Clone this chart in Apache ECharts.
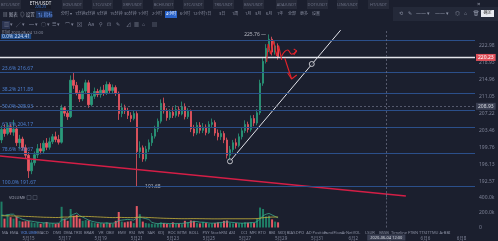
<!DOCTYPE html>
<html><head><meta charset="utf-8">
<script src="https://cdn.jsdelivr.net/npm/echarts@6/dist/echarts.min.js"></script>
<style>html,body{margin:0;padding:0;background:#1b1f2e;}#c{width:498px;height:241px;}</style>
</head><body><div id="c"></div>
<script>
// ===== DATA =====
const opens  = [201.5,203.8,202.9,204.4,203.2,203.9,200.9,201.7,199.8,198.2,194.9,196.6,198.3,199.6,199.1,200.8,199.9,201.1,202.2,201.6,201.0,208.6,207.4,206.6,214.9,213.7,212.0,210.6,212.4,214.3,209.3,211.2,212.3,211.6,212.6,211.9,213.9,212.5,213.2,211.9,207.3,208.6,207.9,206.9,206.2,207.3,199.0,199.8,197.4,199.5,200.9,202.3,203.9,205.6,209.6,207.9,206.4,207.6,206.9,208.2,207.2,208.9,206.6,207.8,203.9,203.0,204.7,203.6,204.3,203.1,204.9,205.3,203.0,202.2,202.9,201.5,198.2,199.4,200.9,200.3,202.2,203.5,204.9,203.8,206.2,205.2,207.5,214.2,219.3,222.4,224.6,221.5,223.0];
const closes = [203.8,202.9,204.4,203.2,203.9,200.9,201.7,199.8,198.2,194.9,196.6,198.3,199.6,199.1,200.8,199.9,201.1,202.2,201.6,201.0,208.6,207.4,206.6,214.9,213.7,212.0,210.6,212.4,214.3,209.3,211.2,212.3,211.6,212.6,211.9,213.9,212.5,213.2,211.9,207.3,208.6,207.9,206.9,206.2,207.3,199.0,199.8,197.4,199.5,200.9,202.3,203.9,205.6,209.6,207.9,206.4,207.6,206.9,208.2,207.2,208.9,206.6,207.8,203.9,203.0,204.7,203.6,204.3,203.1,204.9,205.3,203.0,202.2,202.9,201.5,198.2,199.4,200.9,200.3,202.2,203.5,204.9,203.8,206.2,205.2,207.5,214.2,219.3,222.4,224.6,221.5,223.0,220.23];
const highs  = [204.6,204.9,205.3,205.0,205.9,204.6,202.6,202.2,200.5,198.9,197.2,199.0,200.6,200.8,201.4,201.9,202.0,202.8,203.3,202.6,209.3,209.0,208.0,216.0,216.6,214.5,212.6,213.0,215.0,214.9,212.0,213.2,212.9,213.4,213.8,214.6,214.4,213.9,213.7,212.3,209.6,209.3,208.6,207.6,208.0,207.8,201.2,200.3,200.2,201.6,203.0,204.6,206.2,210.5,210.9,208.5,208.3,208.7,209.2,208.9,210.0,209.6,208.5,208.2,204.8,205.4,205.4,205.2,204.9,205.6,206.2,205.8,203.8,203.6,203.4,202.0,200.2,201.5,201.8,202.9,204.3,205.8,205.5,206.9,207.0,208.3,215.0,220.2,223.4,225.76,225.2,224.1,223.6];
const lows   = [200.8,202.2,202.5,202.6,202.4,200.2,199.6,199.2,197.5,193.4,194.2,196.0,197.6,198.4,198.6,199.3,199.4,200.6,201.0,200.5,200.7,206.7,205.9,206.3,212.9,211.4,209.9,210.1,211.8,208.6,208.9,210.6,211.0,210.9,211.3,211.5,211.9,211.9,211.3,205.9,206.5,207.2,206.1,205.4,205.8,191.68,197.6,196.8,196.9,198.9,200.2,201.8,203.2,205.1,207.3,205.7,205.9,206.3,206.4,206.6,206.9,206.0,206.1,203.2,202.3,202.6,202.9,203.0,202.5,202.8,204.2,202.4,201.4,201.5,200.8,197.5,196.9,198.8,199.6,199.9,201.6,203.0,203.1,203.3,204.5,204.7,207.0,213.6,218.8,221.5,220.7,220.9,219.7];
const volumesK = [350,120,180,140,120,150,90,80,85,90,70,60,70,50,65,75,55,60,50,60,280,120,90,250,160,170,120,90,100,95,70,60,55,60,55,70,60,50,90,210,80,70,80,85,60,290,180,80,60,55,50,45,50,70,60,50,45,70,50,55,45,90,70,95,90,60,55,75,60,50,55,60,70,60,90,95,60,55,60,55,60,70,65,70,60,120,270,250,150,160,110,80,70];
const volMaFastK = [170,165,170,180,180,140,130,110,100,90,85,78,72,68,62,64,60,58,58,60,100,110,120,160,180,195,160,140,120,100,85,75,68,62,60,60,58,58,65,95,100,105,110,105,100,130,140,130,120,110,70,58,52,55,57,55,52,55,55,55,55,60,65,72,80,80,72,72,68,60,58,60,62,68,72,76,72,68,64,60,58,60,62,65,66,80,120,160,180,190,170,150,130];
const volMaSlowK = [160,158,158,157,156,155,154,152,150,149,147,145,143,141,139,138,137,136,135,135,140,141,141,145,147,149,150,150,150,149,147,145,143,141,139,137,135,134,134,137,136,135,134,134,133,138,140,139,137,135,133,131,129,127,125,124,123,122,121,120,119,119,119,120,120,120,119,119,118,118,117,117,117,117,118,118,118,118,118,118,118,118,118,118,119,120,126,132,136,139,141,142,142];
const dateLabels = ['5月15','5月17','5月19','5月21','5月23','5月25','5月27','5月29','5月31','6月2','6月4','6月6','6月8'];
const fibNames  = ['0.0%','23.6%','38.2%','50.0%','61.8%','78.6%','100.0%'];
const fibLevels = [224.41,216.67,211.89,208.03,204.17,198.67,191.67];
const lastPrice = 220.23;
const crossPrice = 208.93;
const crossTime = '2020-06-04 12:00';
const highMark = [89, 225.76];
const lowMark = [45, 191.68];
const redTrend = [[-0.5,198.03],[134.5,189.67]];
const whiteTrend = [[76,196.9],[112.8,226.8]];
const anchorPts = [[76,196.9],[103.2,218.68]];
const scribbleM = [[88.2,219.16],[88.7,223.45],[89.5,221.0],[90.5,224.2],[91.5,220.6],[92.2,222.97],[93.2,219.63]];
const scribbleR = [[93.2,220.6],[95.2,222.0],[96.5,221.0],[98.2,221.8]];
const scribbleRHead = [[97.2,222.25],[98.2,221.8],[97.2,220.8]];
const scribbleD = [[94.2,220.1],[96.5,215.17]];
const scribbleDHead = [[95.2,216.57],[96.5,215.17],[98.2,216.1]];
const tabNames = ['BTC/USDT','ETH/USDT','EOS/USDT','LTC/USDT','XRP/USDT','BCH/USDT','ETC/USDT','TRX/USDT','BSV/USDT','ADA/USDT','DOT/USDT','LINK/USDT','HT/USDT'];
const periodNames = ['分时 ▾','1分钟','3分钟','5分钟','15分钟','30分钟','1小时','2小时','4小时','6小时','12小时','1日','3日','1周','1月','3月','6月','1年','全部','更多','设置'];
const toolGlyphs = ['▥','╱','═','○','☰','⌒','⊠','Aa','⚲','⊡','✎','⊿','▦','⌂','▤'];
const indicatorNames = ['MA','EMA','VOLUME','MACD','DMI','DMA','TRIX','BRAR','VR','OBV','EMV','RSI','WR','SAR','KDJ','ROC','MTM','BOLL','PSY','StochRSI','ASI','CCI','MFI','RTO','BBI','SKDJ','BIAS','DPO','AD','Position','FundFlow','ArNetVOL','LSUR','BSSB','Timeline','FTBN','TTSI','TTMU','ArBBI'];

// ===== LAYOUT / STYLE =====
const N = 158;
const cats = Array.from({length:N},(_,i)=>String(i));
const UP='#2a9a7b', DN='#ec5661', VUP='#1f7d65', VDN='#e45864';
const LOG_BASE = Math.exp(Math.log(192.57)/287);
const candle = opens.map((o,i)=>[o, closes[i], lows[i], highs[i]]);
const volData = volumesK.map((v,i)=>({value:v*1000, itemStyle:{color: closes[i]>=opens[i]?VUP:VDN}}));
const FF = 'Noto Sans, Noto Sans CJK SC, sans-serif';
const gray = '#7d8296';

const g = [];
const tabX = [0,30,62,92,122,153,183,213,243,276,307,337,368];
tabNames.forEach((t,i)=>{
  const active = i===1;
  g.push({type:'rect', shape:{x:tabX[i], y:0, width:21, height:9}, style:{fill: active?'#171a27':'#262a39'}});
  g.push({type:'text', x:tabX[i]+10.5, y:active?1:2.5, style:{text:t, fill: active?'#e8eaf0':'#6c7185', fontSize: active?4.5:4, fontFamily:FF, align:'center', verticalAlign:'top'}});
  if (active) g.push({type:'text', x:tabX[i]+10.5, y:5.5, style:{text:'220.23', fill:'#3f7ad6', fontSize:3.5, fontFamily:FF, align:'center', verticalAlign:'top'}});
});
// right top panel
g.push({type:'rect', shape:{x:393, y:7, width:105, height:14}, style:{fill:'#242939'}});
g.push({type:'text', x:477, y:1, style:{text:'×', fill:'#9ca0b0', fontSize:6, fontFamily:FF, verticalAlign:'top'}});
[['⟲',399],['✎',408],['—— ▾',416],['—— ▾',435],['◎',455],['⌂',464],['🗑',473]].forEach(([t,x])=>g.push({type:'text', x, y:11, style:{text:t, fill:'#9096a8', fontSize:5, fontFamily:FF, verticalAlign:'top'}}));
g.push({type:'rect', shape:{x:481, y:10, width:13, height:7}, style:{fill:'#e8eaf0'}});
g.push({type:'text', x:487.5, y:11, style:{text:'确定', fill:'#333', fontSize:4, fontFamily:FF, align:'center', verticalAlign:'top'}});
// row2
[['▤ 图表',3],['◎ 设置',20]].forEach(([t,x])=>g.push({type:'text', x, y:12, style:{text:t, fill:'#9ca0b0', fontSize:4.5, fontFamily:FF, verticalAlign:'top'}}));
g.push({type:'rect', shape:{x:36, y:11, width:16, height:7}, style:{fill:'#1f3560'}});
g.push({type:'text', x:38, y:12, style:{text:'⇅ 指标', fill:'#6ea0ff', fontSize:4.5, fontFamily:FF, verticalAlign:'top'}});
const periodX = [61,75,85,97,110,124,138,152,166,180,193,205,219,232,245,255,266,277,288,300,312];
periodNames.forEach((t,i)=>{
  const hl = i===8;
  if (hl) g.push({type:'rect', shape:{x:periodX[i]-1, y:11, width:12, height:7}, style:{fill:'#2a63c9'}});
  g.push({type:'text', x:periodX[i], y:12, style:{text:t, fill: hl?'#ffffff':'#8a8fa2', fontSize:4, fontFamily:FF, verticalAlign:'top'}});
});
// row3 tools
const toolX = [4,16,29,41,52,65,77,88,99,107,116,126,134,142,152];
g.push({type:'rect', shape:{x:2, y:21, width:8, height:8}, style:{fill:'#2a3350'}});
toolGlyphs.forEach((t,i)=>g.push({type:'text', x:toolX[i], y:22, style:{text:t+(i<6?' ▾':''), fill:'#7f8498', fontSize:5, fontFamily:FF, verticalAlign:'top'}}));
g.push({type:'text', x:2, y:31, style:{text:'时间 2020-06-04 12:00', fill:'#8a8fa2', fontSize:4, fontFamily:FF, verticalAlign:'top'}});
// volume title
g.push({type:'text', x:9, y:196, style:{text:'VOLUME', fill:'#9ca0b0', fontSize:4, fontFamily:FF, verticalAlign:'top'}});
g.push({type:'rect', shape:{x:27, y:195.5, width:4, height:4}, style:{fill:'none', stroke:'#555a6c', lineWidth:0.6}});
g.push({type:'rect', shape:{x:33, y:195.5, width:4, height:4}, style:{fill:'none', stroke:'#555a6c', lineWidth:0.6}});
// indicator row
const indX = [5,14,29,43,57,68,78,89,101,110,122,132,141,151,161,172,182,194,206,219,232,244,253,262,272,282,291,300,309,320,333,351,370,384,399,413,423,433,445];
indicatorNames.forEach((t,i)=>g.push({type:'text', x:indX[i], y:231, style:{text:t, fill: t==='VOLUME'?'#5b8de8':'#8a8fa2', fontSize:4, fontFamily:FF, align:'center', verticalAlign:'top'}}));
g.push({type:'text', x:480, y:107, style:{text:'+', fill:'#aab', fontSize:5, fontFamily:FF, align:'center', verticalAlign:'middle'}});

const dashed = {color:'#6e7388', width:0.7, type:[2,2]};
const lbl5 = {fontSize:5, fontFamily:FF};

const option = {
  backgroundColor:'#1b1f2e',
  animation:false,
  textStyle:{fontFamily:FF},
  graphic: g,
  grid:[
    {left:0, right:23, top:30, height:167},
    {left:0, right:23, top:193, height:35}
  ],
  xAxis:[
    {type:'category', gridIndex:0, data:cats, boundaryGap:true, axisLine:{show:false}, axisTick:{show:false}, axisLabel:{show:false}, splitLine:{show:false}},
    {type:'category', gridIndex:1, data:cats, boundaryGap:true, axisLine:{show:false}, axisTick:{show:false}, splitLine:{show:false},
      axisLabel:{color:gray, fontSize:4.5, margin:9, interval:(idx)=> idx>=9 && (idx-9)%12===0, formatter:(v,idx)=> dateLabels[(Number(v)-9)/12] || ''}},
    {type:'value', gridIndex:0, min:-0.5, max:N-0.5, show:false}
  ],
  yAxis:[
    {type:'log', logBase:LOG_BASE, gridIndex:0, min:189.48, max:226.84, splitNumber:10, position:'right', axisLine:{show:false}, axisTick:{show:false}, splitLine:{show:false},
      axisLabel:{color:gray, fontSize:5, margin:4, showMinLabel:false, showMaxLabel:false, formatter:v=>Number(v).toFixed(2)}},
    {type:'value', gridIndex:1, min:0, max:466667, interval:200000, position:'right', axisLine:{show:false}, axisTick:{show:false}, splitLine:{show:false},
      axisLabel:{color:gray, fontSize:5, margin:4, showMaxLabel:false, formatter:v=> v===0?'0':(v/1000).toFixed(1)+'k'}}
  ],
  series:[
    {type:'candlestick', xAxisIndex:0, yAxisIndex:0, data:candle, barWidth:2,
      itemStyle:{color:UP, color0:DN, borderColor:UP, borderColor0:DN, borderWidth:0.8},
      markLine:{silent:true, symbol:['none','none'], animation:false,
        data:[
          ...fibLevels.map((v,i)=>({yAxis:v, lineStyle:{color:'#2b4f8a', width:1, type:'solid'},
            label:Object.assign({show:true, position:'insideStartTop', distance:1, formatter:fibNames[i]+' '+v.toFixed(2), color:'#4c7fd0', padding:[0,1]}, lbl5, i===0?{backgroundColor:'#1f4a86', color:'#cddcf5'}:{})})),
          {yAxis:lastPrice, lineStyle:{color:'#e4e5ec', width:1.4, type:'solid'},
            label:Object.assign({show:true, position:'end', distance:1, formatter:lastPrice.toFixed(2), backgroundColor:'#e0505a', color:'#fff', padding:[1,2]}, lbl5)},
          {yAxis:crossPrice, lineStyle:dashed,
            label:Object.assign({show:true, position:'end', distance:1, formatter:crossPrice.toFixed(2), backgroundColor:'#3b4053', color:'#d5d8e0', padding:[1,2]}, lbl5)},
          {xAxis:'128', lineStyle:dashed, label:{show:false}}
        ]}
    },
    {type:'line', xAxisIndex:2, yAxisIndex:0, data:redTrend, symbol:'none', lineStyle:{color:'#d41e46', width:1.5}, silent:true},
    {type:'line', xAxisIndex:2, yAxisIndex:0, data:whiteTrend, symbol:'none', lineStyle:{color:'#e2e3ea', width:1}, silent:true},
    {type:'scatter', xAxisIndex:2, yAxisIndex:0, data:anchorPts, symbol:'circle', symbolSize:5, itemStyle:{color:'#1b1f2e', borderColor:'#e8e8ee', borderWidth:1}, silent:true, z:5},
    {type:'line', xAxisIndex:2, yAxisIndex:0, data:scribbleM, symbol:'none', lineStyle:{color:'#e4232b', width:1.1}, silent:true, z:6},
    {type:'line', xAxisIndex:2, yAxisIndex:0, data:scribbleR, symbol:'none', smooth:true, lineStyle:{color:'#e4232b', width:1.1}, silent:true, z:6},
    {type:'line', xAxisIndex:2, yAxisIndex:0, data:scribbleRHead, symbol:'none', lineStyle:{color:'#e4232b', width:1.1}, silent:true, z:6},
    {type:'line', xAxisIndex:2, yAxisIndex:0, data:scribbleD, symbol:'none', lineStyle:{color:'#e4232b', width:1.1}, silent:true, z:6},
    {type:'line', xAxisIndex:2, yAxisIndex:0, data:scribbleDHead, symbol:'none', lineStyle:{color:'#e4232b', width:1.1}, silent:true, z:6},
    {type:'scatter', xAxisIndex:2, yAxisIndex:0, data:[highMark], symbolSize:0, silent:true,
      label:Object.assign({show:true, position:'left', distance:3, formatter:highMark[1].toFixed(2)+' —', color:'#d8dae2'}, lbl5)},
    {type:'scatter', xAxisIndex:2, yAxisIndex:0, data:[lowMark], symbolSize:0, silent:true,
      label:Object.assign({show:true, position:'right', distance:2, formatter:'— '+lowMark[1].toFixed(2), color:'#d8dae2'}, lbl5)},
    {type:'bar', xAxisIndex:1, yAxisIndex:1, data:volData, barWidth:2,
      markLine:{silent:true, symbol:['none','none'], animation:false,
        data:[
          {xAxis:'128', lineStyle:dashed, label:Object.assign({show:true, position:'start', distance:7, formatter:crossTime, backgroundColor:'#3b4053', color:'#d5d8e0', padding:[1,3]}, {fontSize:4, fontFamily:FF})},
          {yAxis:volumesK[volumesK.length-1]*1000, lineStyle:{opacity:0}, label:Object.assign({show:true, position:'end', distance:1, formatter:(volumesK[volumesK.length-1]).toFixed(1)+'k', backgroundColor:'#d9a628', color:'#2a2a2a', padding:[1,2]}, lbl5)}
        ]}
    },
    {type:'line', xAxisIndex:1, yAxisIndex:1, data:volMaFastK.map(v=>v*1000), symbol:'none', lineStyle:{color:'#3aa98c', width:0.8}, silent:true},
    {type:'line', xAxisIndex:1, yAxisIndex:1, data:volMaSlowK.map(v=>v*1000), symbol:'none', lineStyle:{color:'#c8b23a', width:0.8}, silent:true}
  ]
};
const chart = echarts.init(document.getElementById('c'));
chart.setOption(option);
</script>
</body></html>
